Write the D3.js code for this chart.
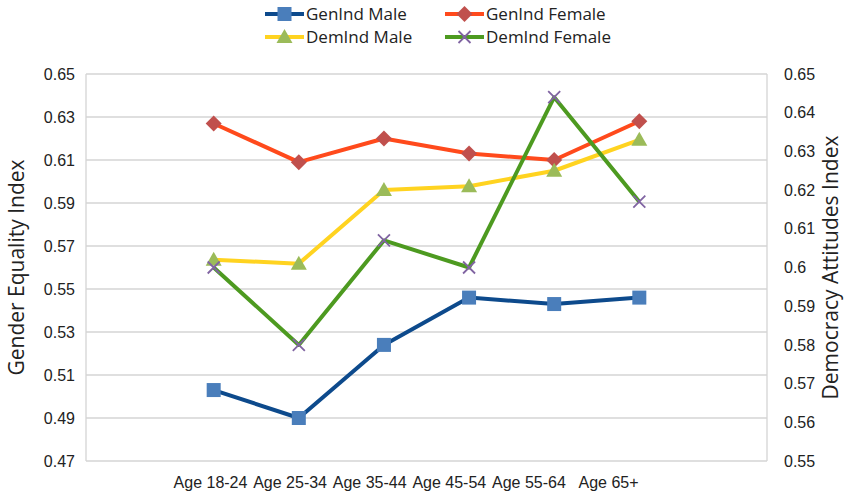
<!DOCTYPE html>
<html>
<head>
<meta charset="utf-8">
<script src="https://cdn.jsdelivr.net/npm/d3@7"></script>
<style>
  html, body { margin: 0; padding: 0; background: #fff; }
  svg { display: block; font-family: "Open Sans", "Noto Sans", sans-serif; }
</style>
</head>
<body>
<svg id="chart" width="855" height="497"></svg>
<script>
// Age groups along the x axis
const categories = ["Age 18-24", "Age 25-34", "Age 35-44", "Age 45-54", "Age 55-64", "Age 65+"];

// Gender equality index (left axis)
const genIndMale   = [0.503, 0.490, 0.524, 0.546, 0.543, 0.546];
const genIndFemale = [0.627, 0.609, 0.620, 0.613, 0.610, 0.628];

// Democracy attitudes index (right axis)
const demIndMale   = [0.602, 0.601, 0.620, 0.621, 0.625, 0.633];
const demIndFemale = [0.600, 0.580, 0.607, 0.600, 0.644, 0.617];

// Tick labels
const leftTicks  = [0.47, 0.49, 0.51, 0.53, 0.55, 0.57, 0.59, 0.61, 0.63, 0.65];
const rightTicks = [0.55, 0.56, 0.57, 0.58, 0.59, 0.60, 0.61, 0.62, 0.63, 0.64, 0.65];

const series = [
  { name: "GenInd Male",   values: genIndMale,   axis: "left",  line: "#0d4a8c", marker: "square",   fill: "#4a7ebb" },
  { name: "GenInd Female", values: genIndFemale, axis: "left",  line: "#ff4a1c", marker: "diamond",  fill: "#c0504d" },
  { name: "DemInd Male",   values: demIndMale,   axis: "right", line: "#ffd320", marker: "triangle", fill: "#9bbb59" },
  { name: "DemInd Female", values: demIndFemale, axis: "right", line: "#4d9a20", marker: "cross",    fill: "#8064a2" }
];

const plot = { left: 86, right: 767, top: 74, bottom: 461 };
const svg = d3.select("#chart");

const x = d3.scalePoint().domain(categories).range([plot.left, plot.right]).padding(1.5);
const xLabels = d3.scalePoint().domain(categories).range([210, 608]);
const yLeft = d3.scaleLinear().domain([0.47, 0.65]).range([plot.bottom, plot.top]);
const yRight = d3.scaleLinear().domain([0.55, 0.65]).range([plot.bottom, plot.top]);

// Horizontal gridlines
svg.append("g")
  .selectAll("line")
  .data(leftTicks)
  .join("line")
  .attr("x1", plot.left).attr("x2", plot.right)
  .attr("y1", d => yLeft(d)).attr("y2", d => yLeft(d))
  .attr("stroke", "#d4d4d4").attr("stroke-width", 1.3);

// Plot frame sides
svg.append("g").selectAll("line")
  .data([plot.left, plot.right])
  .join("line")
  .attr("x1", d => d).attr("x2", d => d)
  .attr("y1", plot.top).attr("y2", plot.bottom)
  .attr("stroke", "#d4d4d4").attr("stroke-width", 1.3);

// Left axis
const leftAxis = svg.append("g")
  .attr("transform", `translate(${plot.left - 11},0)`)
  .call(d3.axisLeft(yLeft).tickValues(leftTicks).tickFormat(d3.format(".2f")).tickSize(0).tickPadding(0));
leftAxis.select(".domain").remove();
leftAxis.selectAll("text").attr("font-size", 16).attr("fill", "#222");

// Right axis
const rightAxis = svg.append("g")
  .attr("transform", `translate(${plot.right + 17},0)`)
  .call(d3.axisRight(yRight).tickValues(rightTicks).tickFormat(d => d3.format(".2~f")(d)).tickSize(0).tickPadding(0));
rightAxis.select(".domain").remove();
rightAxis.selectAll("text").attr("font-size", 16).attr("fill", "#222");

// Category labels
const bottomAxis = svg.append("g")
  .attr("transform", `translate(0,${plot.bottom + 16})`)
  .call(d3.axisBottom(xLabels).tickSize(0).tickPadding(0));
bottomAxis.select(".domain").remove();
bottomAxis.selectAll("text").attr("font-size", 16).attr("fill", "#222").attr("dy", "0.71em");

// Axis titles
svg.append("text")
  .attr("transform", `translate(24,${(plot.top + plot.bottom) / 2}) rotate(-90)`)
  .attr("text-anchor", "middle")
  .attr("font-size", 21).attr("fill", "#222")
  .text("Gender Equality Index");
svg.append("text")
  .attr("transform", `translate(838,${(plot.top + plot.bottom) / 2}) rotate(-90)`)
  .attr("text-anchor", "middle")
  .attr("font-size", 21).attr("fill", "#222")
  .text("Democracy Attitudes Index");

// Marker shapes
function drawMarker(g, type, cx, cy, fill) {
  if (type === "square") {
    g.append("rect").attr("x", cx - 7).attr("y", cy - 7).attr("width", 14).attr("height", 14).attr("fill", fill);
  } else if (type === "diamond") {
    g.append("path").attr("d", `M${cx},${cy - 8}L${cx + 8},${cy}L${cx},${cy + 8}L${cx - 8},${cy}Z`).attr("fill", fill);
  } else if (type === "triangle") {
    g.append("path").attr("d", `M${cx},${cy - 8}L${cx + 8},${cy + 6}L${cx - 8},${cy + 6}Z`).attr("fill", fill);
  } else if (type === "cross") {
    g.append("path").attr("d", `M${cx - 6},${cy - 6}L${cx + 6},${cy + 6}M${cx - 6},${cy + 6}L${cx + 6},${cy - 6}`)
      .attr("stroke", fill).attr("stroke-width", 1.8).attr("fill", "none");
  }
}

// Series lines and markers
series.forEach(s => {
  const yScale = s.axis === "left" ? yLeft : yRight;
  const line = d3.line().x((d, i) => x(categories[i])).y(d => yScale(d));
  const g = svg.append("g");
  g.append("path")
    .datum(s.values)
    .attr("d", line)
    .attr("fill", "none")
    .attr("stroke", s.line)
    .attr("stroke-width", 4)
    .attr("stroke-linejoin", "round");
  s.values.forEach((v, i) => drawMarker(g, s.marker, x(categories[i]), yScale(v), s.fill));
});

// Legend
const legendPos = [
  { x: 265, y: 14 }, { x: 445, y: 14 },
  { x: 265, y: 37 }, { x: 445, y: 37 }
];
series.forEach((s, i) => {
  const p = legendPos[i];
  const g = svg.append("g");
  g.append("line").attr("x1", p.x).attr("x2", p.x + 39).attr("y1", p.y).attr("y2", p.y)
    .attr("stroke", s.line).attr("stroke-width", 4);
  drawMarker(g, s.marker, p.x + 19.5, p.y, s.fill);
  g.append("text").attr("x", p.x + 41).attr("y", p.y).attr("dy", "0.35em")
    .attr("font-size", 17).attr("fill", "#222").text(s.name);
});
</script>
</body>
</html>
